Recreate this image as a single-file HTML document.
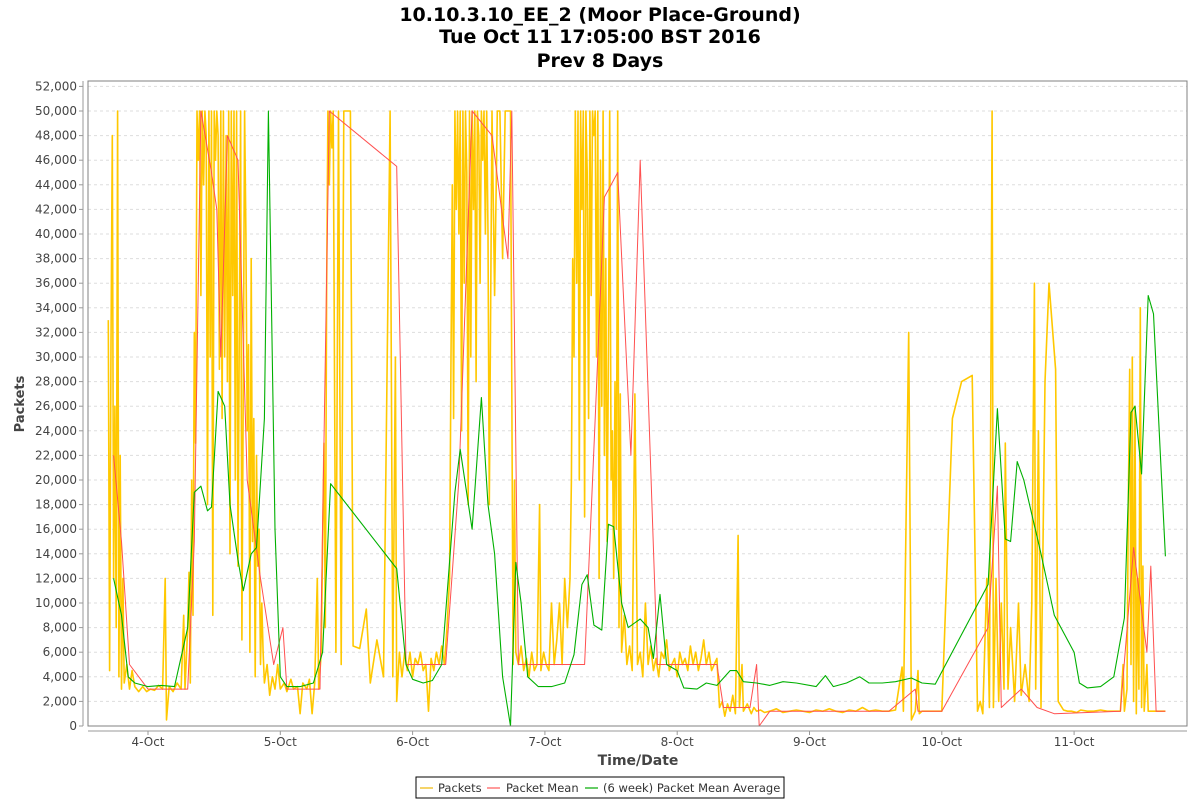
<!DOCTYPE html>
<html><head><meta charset="utf-8">
<style>
body{margin:0;background:#fff;font-family:"Liberation Sans","DejaVu Sans",sans-serif;}
svg text{font-family:"DejaVu Sans","Liberation Sans",sans-serif;}
</style></head>
<body>
<svg id="chart" width="1200" height="800" xmlns="http://www.w3.org/2000/svg">
<text x="600" y="21" text-anchor="middle" font-size="19" font-weight="bold" fill="#000">10.10.3.10_EE_2 (Moor Place-Ground)</text>
<text x="600" y="43" text-anchor="middle" font-size="19" font-weight="bold" fill="#000">Tue Oct 11 17:05:00 BST 2016</text>
<text x="600" y="67" text-anchor="middle" font-size="19" font-weight="bold" fill="#000">Prev 8 Days</text>
<g id="grid"></g>
<g id="axes"></g>
<g id="series"></g>
<rect x="88" y="81" width="1099" height="645" fill="none" stroke="#808080" stroke-width="1"/>
<text transform="translate(24,404) rotate(-90)" text-anchor="middle" font-size="13" font-weight="bold" fill="#444">Packets</text>
<text x="638" y="765" text-anchor="middle" font-size="14" font-weight="bold" fill="#444">Time/Date</text>
<g>
<rect x="416" y="777" width="368" height="21" fill="#fff" stroke="#000" stroke-width="1"/>
<line x1="420" y1="788" x2="433" y2="788" stroke="#f5d469" stroke-width="2"/>
<text x="438" y="792" font-size="11.5" fill="#333">Packets</text>
<line x1="487" y1="788" x2="500" y2="788" stroke="#ff9b9b" stroke-width="2"/>
<text x="506" y="792" font-size="11.5" fill="#333">Packet Mean</text>
<line x1="585" y1="788" x2="598" y2="788" stroke="#66cc66" stroke-width="2"/>
<text x="603" y="792" font-size="11.5" fill="#333">(6 week) Packet Mean Average</text>
</g>
</svg>
<script>
const yTicks=[0,2000,4000,6000,8000,10000,12000,14000,16000,18000,20000,22000,24000,26000,28000,30000,32000,34000,36000,38000,40000,42000,44000,46000,48000,50000,52000];
const xTickDays=[4,5,6,7,8,9,10,11];
const xTickLabels=["4-Oct","5-Oct","6-Oct","7-Oct","8-Oct","9-Oct","10-Oct","11-Oct"];
const packetsT=[3.70,3.71,3.72,3.73,3.74,3.75,3.76,3.77,3.78,3.79,3.80,3.81,3.82,3.84,3.86,3.88,3.90,3.93,3.96,3.99,4.02,4.05,4.08,4.11,4.13,4.14,4.16,4.19,4.22,4.25,4.27,4.28,4.30,4.31,4.32,4.33,4.34,4.35,4.36,4.37,4.38,4.39,4.40,4.41,4.42,4.43,4.44,4.45,4.46,4.47,4.48,4.49,4.50,4.51,4.52,4.53,4.54,4.55,4.56,4.57,4.58,4.59,4.60,4.61,4.62,4.63,4.64,4.65,4.66,4.67,4.68,4.69,4.70,4.71,4.72,4.73,4.74,4.75,4.76,4.77,4.78,4.79,4.80,4.81,4.82,4.83,4.84,4.85,4.86,4.87,4.88,4.90,4.92,4.94,4.96,4.98,5.00,5.03,5.05,5.08,5.10,5.13,5.15,5.17,5.20,5.22,5.24,5.26,5.28,5.29,5.31,5.32,5.33,5.34,5.35,5.36,5.37,5.38,5.39,5.40,5.42,5.44,5.46,5.48,5.53,5.55,5.60,5.65,5.68,5.73,5.78,5.83,5.85,5.87,5.88,5.90,5.92,5.94,5.96,5.98,6.00,6.02,6.04,6.06,6.08,6.10,6.12,6.14,6.16,6.18,6.20,6.22,6.24,6.26,6.28,6.29,6.30,6.31,6.32,6.33,6.34,6.35,6.36,6.37,6.38,6.39,6.40,6.41,6.42,6.43,6.44,6.45,6.46,6.47,6.48,6.49,6.50,6.51,6.52,6.53,6.54,6.55,6.56,6.57,6.58,6.60,6.62,6.64,6.66,6.68,6.70,6.72,6.74,6.76,6.77,6.78,6.80,6.82,6.84,6.86,6.88,6.90,6.92,6.94,6.96,6.97,6.99,7.01,7.03,7.05,7.07,7.09,7.11,7.13,7.15,7.17,7.19,7.20,7.21,7.22,7.23,7.24,7.25,7.26,7.27,7.28,7.29,7.30,7.31,7.32,7.33,7.34,7.35,7.36,7.37,7.38,7.39,7.40,7.41,7.42,7.43,7.44,7.45,7.46,7.47,7.48,7.49,7.50,7.51,7.52,7.53,7.54,7.55,7.56,7.57,7.58,7.60,7.62,7.64,7.66,7.68,7.70,7.72,7.74,7.76,7.78,7.80,7.82,7.84,7.86,7.88,7.90,7.92,7.94,7.96,7.98,8.00,8.02,8.04,8.06,8.08,8.10,8.12,8.14,8.16,8.18,8.20,8.22,8.24,8.26,8.28,8.30,8.32,8.34,8.36,8.38,8.40,8.42,8.44,8.46,8.47,8.49,8.50,8.53,8.56,8.58,8.60,8.63,8.66,8.70,8.75,8.80,8.85,8.90,8.95,9.00,9.05,9.10,9.15,9.20,9.25,9.30,9.35,9.40,9.45,9.50,9.55,9.60,9.65,9.70,9.71,9.75,9.77,9.80,9.82,9.83,9.85,9.90,9.95,10.00,10.08,10.15,10.23,10.27,10.29,10.31,10.34,10.36,10.38,10.39,10.41,10.43,10.45,10.47,10.48,10.50,10.52,10.55,10.58,10.60,10.63,10.66,10.68,10.70,10.71,10.73,10.75,10.78,10.81,10.86,10.88,10.92,10.95,10.98,11.02,11.05,11.10,11.15,11.20,11.25,11.30,11.35,11.37,11.38,11.40,11.41,11.42,11.43,11.44,11.45,11.46,11.47,11.48,11.49,11.50,11.51,11.52,11.53,11.55,11.56,11.60,11.65,11.69];
const packetsV=[33000,4500,31000,48000,12000,26000,8000,50000,4000,22000,3000,12000,3500,5000,3000,4500,3200,2800,3200,2800,3000,2900,3300,3000,12000,500,3200,2800,3500,3000,9000,3000,8000,12500,3500,20000,9000,32000,23000,50000,46000,50000,35000,50000,44000,50000,48000,18000,50000,30000,50000,9000,50000,46000,50000,48000,29000,50000,25000,50000,30000,48000,28000,50000,14000,50000,35000,50000,20000,50000,13000,32000,50000,7000,28000,50000,40000,24000,31000,6000,38000,15000,25000,4000,22000,13000,16000,5000,10000,6000,3500,5000,2500,4000,3000,5000,3000,3500,2800,3800,3000,3200,1000,3500,3000,3800,1000,3500,12000,3000,6000,15000,23000,8000,35000,50000,44000,50000,47000,50000,6000,50000,5000,50000,50000,6500,6300,9500,3500,7000,4000,50000,4000,30000,2000,6000,4000,6000,4500,6000,4000,5500,5000,6000,4500,5000,1200,5500,4500,6000,5000,6500,5000,8000,12000,30000,44000,25000,50000,42000,50000,40000,50000,24000,50000,36000,50000,45000,18000,50000,30000,50000,42000,50000,28000,50000,48000,36000,50000,46000,50000,40000,50000,40000,18000,50000,35000,50000,50000,38000,50000,50000,50000,5000,20000,6000,5000,6500,4500,5500,4000,6000,4500,5000,18000,4500,6000,5000,4500,10000,5000,7000,10000,5000,12000,8000,12000,20000,38000,30000,50000,36000,50000,20000,50000,42000,50000,17000,50000,45000,25000,50000,35000,50000,48000,50000,30000,50000,12000,46000,26000,50000,22000,38000,15000,30000,50000,20000,24000,12000,28000,16000,50000,8000,27000,6000,9000,5000,6500,4500,27000,5000,6000,4000,10000,5000,6500,4500,5500,4000,6000,5500,7000,4500,5000,5500,4000,6000,5000,5500,4500,6500,5000,6000,4500,5500,7000,5000,6000,4500,5000,5500,1500,2000,800,1800,1200,2500,1000,15500,1500,5000,1200,1800,1000,1500,1200,1300,1100,1200,1400,1100,1200,1300,1200,1100,1300,1200,1400,1200,1100,1300,1200,1500,1200,1300,1200,1200,1300,4800,1200,32000,500,1200,4500,1000,1200,1200,1200,1200,25000,28000,28500,1200,2000,1000,12000,1500,50000,1500,12000,2000,10000,3000,23000,3000,8000,2000,10000,2500,5000,2000,10000,36000,3000,24000,1500,28000,36000,29000,2000,1300,1200,1200,1100,1300,1200,1200,1300,1200,1200,1200,5000,1200,3000,18000,29000,5000,30000,2000,26000,1000,12000,3000,34000,1500,13000,1200,5000,1200,1200,1200,1200];
const meanT=[3.74,3.80,3.86,4.00,4.30,4.35,4.40,4.48,4.52,4.55,4.60,4.68,4.75,4.85,4.95,5.02,5.05,5.30,5.37,5.88,5.95,6.25,6.35,6.45,6.60,6.72,6.75,6.80,7.30,7.38,7.45,7.55,7.65,7.72,7.85,8.30,8.35,8.55,8.60,8.62,8.70,9.60,9.80,9.82,10.00,10.35,10.42,10.45,10.60,10.72,10.85,11.35,11.45,11.55,11.58,11.62,11.69];
const meanV=[22000,15000,5000,3000,3000,15000,50000,45000,42000,30000,48000,46000,20000,12000,5000,8000,3000,3000,50000,45500,5000,5000,20000,50000,48000,38000,50000,5000,5000,25000,43000,45000,22000,46000,5000,5000,1500,1500,5000,0,1200,1200,3000,1200,1200,8000,19500,1500,3000,1500,1000,1200,14500,6000,13000,1200,1200];
const avgT=[3.74,3.80,3.85,3.90,4.00,4.10,4.20,4.30,4.35,4.40,4.45,4.48,4.53,4.58,4.62,4.68,4.72,4.78,4.82,4.88,4.91,4.96,5.00,5.05,5.15,5.25,5.32,5.38,5.88,5.95,6.00,6.08,6.15,6.22,6.32,6.36,6.45,6.52,6.57,6.62,6.68,6.74,6.78,6.82,6.87,6.95,7.05,7.15,7.22,7.28,7.32,7.37,7.43,7.48,7.52,7.58,7.63,7.72,7.78,7.82,7.87,7.92,8.00,8.05,8.15,8.22,8.30,8.40,8.45,8.50,8.60,8.70,8.80,8.90,9.05,9.12,9.18,9.28,9.38,9.45,9.55,9.65,9.77,9.85,9.95,10.35,10.42,10.48,10.52,10.57,10.62,10.75,10.85,11.00,11.04,11.10,11.20,11.30,11.38,11.43,11.46,11.51,11.56,11.60,11.65,11.69];
const avgV=[12000,9000,4000,3500,3200,3300,3200,8000,19000,19500,17500,17800,27200,26000,18000,13500,11000,14000,14500,25000,50000,16000,4000,3200,3200,3500,6000,19700,12800,5000,3800,3500,3700,5000,19000,22500,16000,26700,18000,14000,4000,0,13300,10000,4000,3200,3200,3500,5800,11500,12300,8200,7800,16400,16200,10000,8000,8700,8000,5500,10700,5000,4500,3100,3000,3500,3300,4500,4500,3600,3500,3300,3600,3500,3200,4100,3200,3500,4000,3500,3500,3600,3900,3500,3400,11500,25800,15200,15000,21500,20000,14000,9000,6000,3500,3100,3200,4000,8800,25500,26000,20500,35000,33500,22500,13800];

const NS='http://www.w3.org/2000/svg';
const X0=88,X1=1187,Y0=726,Y1=81;
function xs(d){return 148+(d-4)*132.3;}
function ys(v){return 726-v*615/50000;}
function mk(tag,attrs,parent){const e=document.createElementNS(NS,tag);for(const k in attrs)e.setAttribute(k,attrs[k]);parent.appendChild(e);return e;}
const grid=document.getElementById('grid'),axes=document.getElementById('axes'),series=document.getElementById('series');
mk('line',{x1:83,y1:Y1,x2:83,y2:Y0,stroke:'#999'},axes);
mk('line',{x1:X0,y1:731,x2:X1,y2:731,stroke:'#999'},axes);
yTicks.forEach(v=>{
  const y=ys(v);
  const g=mk('line',{x1:X0,y1:y,x2:X1,y2:y,stroke:'#ddd','stroke-dasharray':'3,3'},grid);
  
  
  mk('line',{x1:79,y1:y,x2:83,y2:y,stroke:'#999'},axes);
  const t=mk('text',{x:77,y:y+4,'text-anchor':'end','font-size':12,fill:'#444'},axes);
  t.textContent=v.toLocaleString('en-US');
  
  
});
xTickDays.forEach((d,i)=>{
  const x=xs(d);
  mk('line',{x1:x,y1:731,x2:x,y2:735,stroke:'#999'},axes);
  const t=mk('text',{x:x,y:746,'text-anchor':'middle','font-size':12,fill:'#444'},axes);
  t.textContent=xTickLabels[i];
  
  
});
function line(T,V,color,w,name){
  const n=Math.min(T.length,V.length);
  const pts=[];
  for(let i=0;i<n;i++)pts.push(xs(T[i]).toFixed(1)+','+ys(V[i]).toFixed(1));
  const p=mk('polyline',{points:pts.join(' '),fill:'none',stroke:color,'stroke-width':w,'stroke-linejoin':'round'},series);
  
  
}
line(packetsT,packetsV,'#ffc800',1.6,'packets-line');
line(meanT,meanV,'#ff5050',1,'packet-mean-line');
line(avgT,avgV,'#00b000',1.1,'packet-mean-average-line');
</script>
</body></html>
